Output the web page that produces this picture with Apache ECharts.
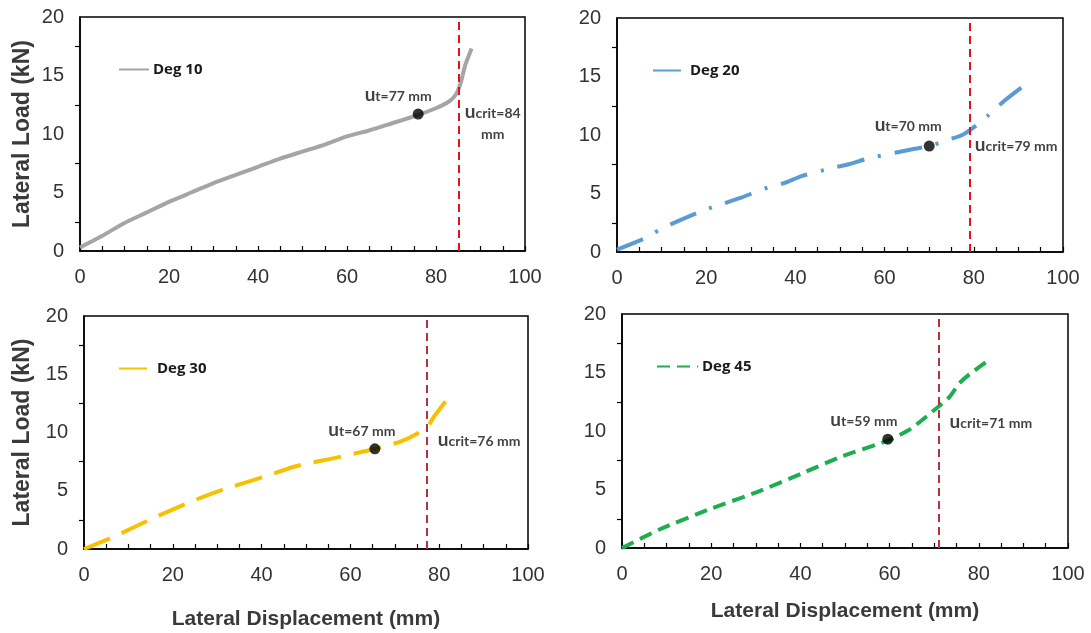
<!DOCTYPE html>
<html>
<head>
<meta charset="utf-8">
<script src="https://cdn.jsdelivr.net/npm/echarts@6/dist/echarts.min.js"></script>
<style>
html,body{margin:0;padding:0;background:#fff;}
#chart{width:1091px;height:633px;}
</style>
</head>
<body>
<div id="chart"></div>
<script>
// ---- Data ----
const seriesNames = ['Deg 10', 'Deg 20', 'Deg 30', 'Deg 45'];

const deg10 = [[0,0.3],[5,1.3],[10,2.4],[15,3.3],[20,4.2],[25,5.0],[30,5.8],[35,6.5],[40,7.2],[45,7.9],[50,8.5],[55,9.1],[60,9.8],[65,10.3],[70,10.9],[75,11.5],[80,12.2],[83,12.8],[84.5,13.4],[85.5,14.3],[86.5,15.8],[88,17.3]];
const deg20 = [[0,0.2],[6.4,1.2],[9.5,1.9],[13.4,2.6],[19.7,3.6],[23.6,4.1],[27.5,4.6],[33.7,5.5],[37.6,5.9],[41.5,6.5],[48.5,7.2],[52,7.5],[56.3,8.0],[62.6,8.5],[66.5,8.8],[70,9.05],[73.5,9.5],[77.4,10.0],[80.5,10.8],[83.3,11.7],[86.8,12.9],[89.1,13.6],[92.2,14.5]];
const deg30 = [[0,0],[7,1.1],[16.4,2.8],[25,4.2],[31.3,5.1],[40.6,6.2],[47.7,7.1],[56.3,7.8],[65.6,8.6],[71.1,9.2],[75,9.9],[77.7,10.7],[78.9,11.4],[81.5,12.7]];
const deg45 = [[0,0],[8.5,1.6],[20.2,3.4],[30.4,4.8],[40.5,6.4],[49.1,7.8],[59.7,9.2],[64.8,10.2],[71,12.1],[73.4,12.9],[75.7,14.1],[78.1,14.9],[82.4,16.1]];
const curves = [deg10, deg20, deg30, deg45];

const utX = [76, 70, 65.5, 59.6];          // displacement at black dot
const utY = [11.7, 9.05, 8.6, 9.3];        // load at black dot
const utText = ['77', '70', '67', '59'];   // u_t label values (mm)
const critX = [85, 79, 77.3, 71.1];        // red dashed line positions
const critText = ['84', '79', '76', '71']; // u_crit label values (mm)

const xTicks = [0, 20, 40, 60, 80, 100];
const yTicks = [0, 5, 10, 15, 20];

// ---- Layout / style ----
const grids = [
  {left: 80, top: 17, width: 445, height: 234},
  {left: 617, top: 18, width: 446, height: 234},
  {left: 84, top: 316, width: 444, height: 233},
  {left: 622, top: 314, width: 446, height: 234}
];
const colors = ['#a5a5a5', '#5b9bd5', '#f7c100', '#1fae4f'];
const dashTypes = ['solid', [28, 14, 3, 14], [28, 13], [13, 7]];
const critColors = ['#e8101a', '#e8101a', '#b5323c', '#b5323c'];
const legendPos = [
  {left: 118, top: 62, w: 30},
  {left: 652, top: 63, w: 33},
  {left: 118, top: 361, w: 34},
  {left: 656, top: 359, w: 41}
];
const utOffset = [[-20, 0], [-21, -2], [-13, 0], [-24, 0]];
const critLabelY = [11.0, 8.97, 9.18, 10.8];
const critLabelOffset = [[30, -1], [1, -3], [6, -3], [6, -1]];
const tickColor = '#333';
const axisFont = '"Liberation Sans", Arial, sans-serif';
const labelFont = 'Lato, "Open Sans", sans-serif';

const option = {
  animation: false,
  backgroundColor: '#fff',
  grid: grids.map(g => Object.assign({show: true, borderColor: '#000', borderWidth: 1.5, backgroundColor: 'transparent'}, g)),
  legend: seriesNames.map((n, i) => ({
    data: [n],
    left: legendPos[i].left,
    top: legendPos[i].top,
    itemWidth: legendPos[i].w,
    itemHeight: 14,
    itemGap: 4,
    padding: 0,
    itemStyle: {opacity: 0},
    textStyle: {fontFamily: '"Open Sans", sans-serif', fontWeight: 'bold', fontSize: 15, color: '#1a1a1a', padding: [0, 0, 0, -1]}
  })),
  xAxis: grids.map((g, i) => ({
    type: 'value', gridIndex: i, min: xTicks[0], max: xTicks[xTicks.length - 1], interval: 20,
    name: i >= 2 ? 'Lateral Displacement (mm)' : '',
    nameLocation: 'middle',
    nameGap: i === 2 ? 60 : 53,
    nameTextStyle: {fontFamily: axisFont, fontWeight: 'bold', fontSize: 21, color: '#3a3a3a'},
    axisLine: {show: true, onZero: false, lineStyle: {color: '#000', width: 1.5}},
    axisTick: {show: true, inside: true, length: 5, lineStyle: {color: '#000', width: 1.2}},
    minorTick: {show: true, splitNumber: 4, length: 5, lineStyle: {color: '#000', width: 1.2}},
    splitLine: {show: false},
    axisLabel: {margin: 16, fontFamily: axisFont, fontSize: 20, color: tickColor}
  })),
  yAxis: grids.map((g, i) => ({
    type: 'value', gridIndex: i, min: yTicks[0], max: yTicks[yTicks.length - 1], interval: 5,
    name: (i === 0 || i === 2) ? 'Lateral Load (kN)' : '',
    nameLocation: 'middle',
    nameGap: i === 0 ? 46 : 50,
    nameTextStyle: {fontFamily: axisFont, fontWeight: 'bold', fontSize: 23, color: '#3a3a3a'},
    axisLine: {show: true, onZero: false, lineStyle: {color: '#000', width: 1.5}},
    axisTick: {show: false},
    minorTick: {show: true, splitNumber: 2, length: 5, lineStyle: {color: '#000', width: 1.2}},
    splitLine: {show: false},
    axisLabel: {margin: 16, fontFamily: axisFont, fontSize: 20, color: tickColor}
  })),
  series: []
};

const rich = {
  u: {fontFamily: labelFont, fontWeight: 'bold', fontSize: 19, color: '#111', verticalAlign: 'bottom'},
  s: {fontFamily: labelFont, fontWeight: 'bold', fontSize: 14, color: '#111', verticalAlign: 'bottom', padding: [0, 0, 1, 0]}
};

seriesNames.forEach((name, i) => {
  option.series.push({
    name: name, type: 'line', xAxisIndex: i, yAxisIndex: i,
    data: curves[i], symbol: 'none', smooth: 0.2,
    itemStyle: {color: colors[i]},
    lineStyle: {color: colors[i], width: 4, type: dashTypes[i], cap: 'butt'},
    markLine: {
      silent: true, symbol: ['none', 'none'], animation: false,
      label: {show: false},
      lineStyle: {color: critColors[i], type: [8, 5], width: 2},
      data: [{xAxis: critX[i]}]
    },
    z: 2
  });
  option.series.push({
    type: 'scatter', xAxisIndex: i, yAxisIndex: i,
    data: [[utX[i], utY[i]]], symbol: 'circle', symbolSize: 11,
    itemStyle: {color: '#000'},
    label: {show: true, position: 'top', distance: 4, offset: utOffset[i],
      formatter: '{u|u}{s|t=' + utText[i] + ' mm}', rich: rich},
    z: 5
  });
  const critFmt = i === 0
    ? '{u|u}{s|crit=' + critText[i] + '}\n{s|mm}'
    : '{u|u}{s|crit=' + critText[i] + ' mm}';
  option.series.push({
    type: 'scatter', xAxisIndex: i, yAxisIndex: i,
    data: [[critX[i], critLabelY[i]]], symbol: 'circle', symbolSize: 1,
    itemStyle: {color: 'rgba(0,0,0,0)'},
    label: {show: true, position: 'right', distance: 4, offset: critLabelOffset[i],
      align: i === 0 ? 'center' : 'left', lineHeight: 21, color: '#111',
      formatter: critFmt, rich: rich},
    z: 5
  });
});

const chart = echarts.init(document.getElementById('chart'), null, {renderer: 'canvas'});
chart.setOption(option);
</script>
</body>
</html>
